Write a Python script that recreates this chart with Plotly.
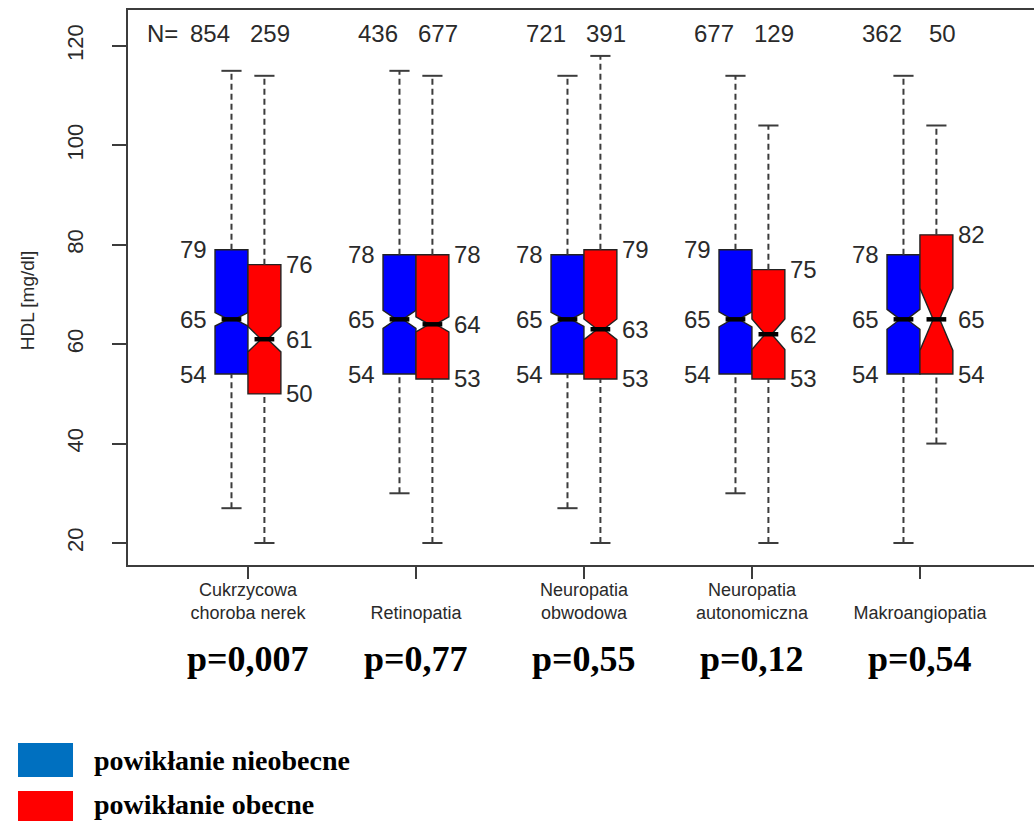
import plotly.graph_objects as go
import numpy as np

# ---------------- data ----------------
categories = ["Cukrzycowa<br>choroba nerek", "&nbsp;<br>Retinopatia", "Neuropatia<br>obwodowa",
              "Neuropatia<br>autonomiczna", "&nbsp;<br>Makroangiopatia"]
p_values = ["p=0,007", "p=0,77", "p=0,55", "p=0,12", "p=0,54"]

# powikłanie nieobecne (blue)
n_absent = [854, 436, 721, 677, 362]
low_absent = [27, 30, 27, 30, 20]
q1_absent = [54, 54, 54, 54, 54]
med_absent = [65, 65, 65, 65, 65]
q3_absent = [79, 78, 78, 79, 78]
high_absent = [115, 115, 114, 114, 114]

# powikłanie obecne (red)
n_present = [259, 677, 391, 129, 50]
low_present = [20, 20, 20, 20, 40]
q1_present = [50, 53, 53, 53, 54]
med_present = [61, 64, 63, 62, 65]
q3_present = [76, 78, 79, 75, 82]
high_present = [114, 114, 118, 104, 104]

legend_labels = ["powikłanie nieobecne", "powikłanie obecne"]
y_ticks = [20, 40, 60, 80, 100, 120]

# ---------------- styling ----------------
BLUE = "#0000FF"
RED = "#FF0000"
LEG_BLUE = "#0070C0"
DARK = "#2a2a2a"
AX = "#3c3c3c"
BOX_W = 0.196
OFF = 0.098
NOTCHW = 0.4
CAP = 0.06

pos = np.arange(len(categories))

fig = go.Figure()

series = [
    (pos - OFF, n_absent, low_absent, q1_absent, med_absent, q3_absent, high_absent, BLUE, legend_labels[0]),
    (pos + OFF, n_present, low_present, q1_present, med_present, q3_present, high_present, RED, legend_labels[1]),
]

for xs, n, lo, q1, med, q3, hi, col, name in series:
    q1a, q3a, na = np.array(q1, float), np.array(q3, float), np.array(n, float)
    notch = 1.58 * (q3a - q1a) / np.sqrt(na)
    # dashed whiskers
    wx, wy, cx, cy = [], [], [], []
    for x, l, a, b, h in zip(xs, lo, q1, q3, hi):
        wx += [x, x, None, x, x, None]
        wy += [l, a, None, b, h, None]
        cx += [x - CAP, x + CAP, None, x - CAP, x + CAP, None]
        cy += [l, l, None, h, h, None]
    fig.add_trace(go.Scatter(x=wx, y=wy, mode="lines", line=dict(color=AX, width=2, dash="6px,4px"),
                             hoverinfo="skip", showlegend=False))
    fig.add_trace(go.Scatter(x=cx, y=cy, mode="lines", line=dict(color=AX, width=2),
                             hoverinfo="skip", showlegend=False))
    fig.add_trace(go.Box(
        x=list(xs), q1=q1, median=med, q3=q3, lowerfence=q1, upperfence=q3,
        notched=True, notchspan=list(notch), notchwidth=NOTCHW, width=BOX_W,
        fillcolor=col, line=dict(color="#222222", width=1.4), name=name,
        showlegend=False, hoverinfo="skip", whiskerwidth=0,
    ))
    # thick median
    mx, my = [], []
    hw = BOX_W / 2 * (1 - NOTCHW)
    for x, m in zip(xs, med):
        mx += [x - hw, x + hw, None]
        my += [m, m, None]
    fig.add_trace(go.Scatter(x=mx, y=my, mode="lines", line=dict(color="black", width=4.5),
                             hoverinfo="skip", showlegend=False))

annotations = []
VAL_FONT = dict(family="Arial, Liberation Sans, sans-serif", size=24, color=DARK)
for i, g in enumerate(pos):
    for v in (q1_absent[i], med_absent[i], q3_absent[i]):
        annotations.append(dict(x=g - 0.232, y=v, text=str(v), showarrow=False, xanchor="right",
                                yanchor="middle", font=VAL_FONT))
    for v in (q1_present[i], med_present[i], q3_present[i]):
        annotations.append(dict(x=g + 0.214, y=v, text=str(v), showarrow=False, xanchor="left",
                                yanchor="middle", font=VAL_FONT))
    annotations.append(dict(x=g - 0.226, y=122.6, text=str(n_absent[i]), showarrow=False,
                            xanchor="center", yanchor="middle", font=VAL_FONT))
    annotations.append(dict(x=g + 0.134, y=122.6, text=str(n_present[i]), showarrow=False,
                            xanchor="center", yanchor="middle", font=VAL_FONT))
    annotations.append(dict(x=g, xref="x", y=-0.17, yref="paper", text="<b>%s</b>" % p_values[i],
                            showarrow=False, xanchor="center", yanchor="middle",
                            font=dict(family="Liberation Serif, Times New Roman, serif", size=36, color="black")))
annotations.append(dict(x=pos[0] - 0.506, y=122.6, text="N=", showarrow=False, xanchor="center",
                        yanchor="middle", font=VAL_FONT))
annotations.append(dict(x=-0.1115, xref="paper", y=0.477, yref="paper", text="HDL [mg/dl]", textangle=-90,
                        showarrow=False, xanchor="center", yanchor="middle",
                        font=dict(family="Arial, Liberation Sans, sans-serif", size=19, color=DARK)))

LEG_FONT = dict(family="Liberation Serif, Times New Roman, serif", size=28, color="black")
annotations.append(dict(x=-0.0397, xref="paper", y=-0.3514, yref="paper", text="<b>%s</b>" % legend_labels[0],
                        showarrow=False, xanchor="left", yanchor="middle", font=LEG_FONT))
annotations.append(dict(x=-0.0397, xref="paper", y=-0.4324, yref="paper", text="<b>%s</b>" % legend_labels[1],
                        showarrow=False, xanchor="left", yanchor="middle", font=LEG_FONT))

shapes = [
    dict(type="rect", xref="paper", yref="paper", x0=-0.1214, x1=-0.0607, y0=-0.382, y1=-0.3207,
         fillcolor=LEG_BLUE, line=dict(width=0)),
    dict(type="rect", xref="paper", yref="paper", x0=-0.1214, x1=-0.0607, y0=-0.4613, y1=-0.4072,
         fillcolor=RED, line=dict(width=0)),
]

fig.update_layout(
    width=1034, height=821,
    margin=dict(l=128, r=0, t=10, b=256),
    plot_bgcolor="white", paper_bgcolor="white",
    showlegend=False,
    annotations=annotations,
    shapes=shapes,
    xaxis=dict(range=[-0.714, 4.679], tickvals=list(pos), ticktext=categories,
               showgrid=False, zeroline=False, showline=True, mirror=True, linecolor=AX, linewidth=2,
               ticks="outside", ticklen=12, tickwidth=2, tickcolor=AX, ticklabelstandoff=-5,
               tickfont=dict(family="Arial, Liberation Sans, sans-serif", size=18, color=DARK)),
    yaxis=dict(range=[15.57, 127.24], tickvals=y_ticks, ticktext=[str(t) for t in y_ticks],
               showgrid=False, zeroline=False, showline=True, linecolor=AX, linewidth=2,
               ticks="outside", ticklen=14, tickwidth=2, tickcolor=AX, tickangle=-90,
               ticklabelstandoff=20,
               tickfont=dict(family="Arial, Liberation Sans, sans-serif", size=22, color=DARK)),
)

fig.write_html("out.html")
